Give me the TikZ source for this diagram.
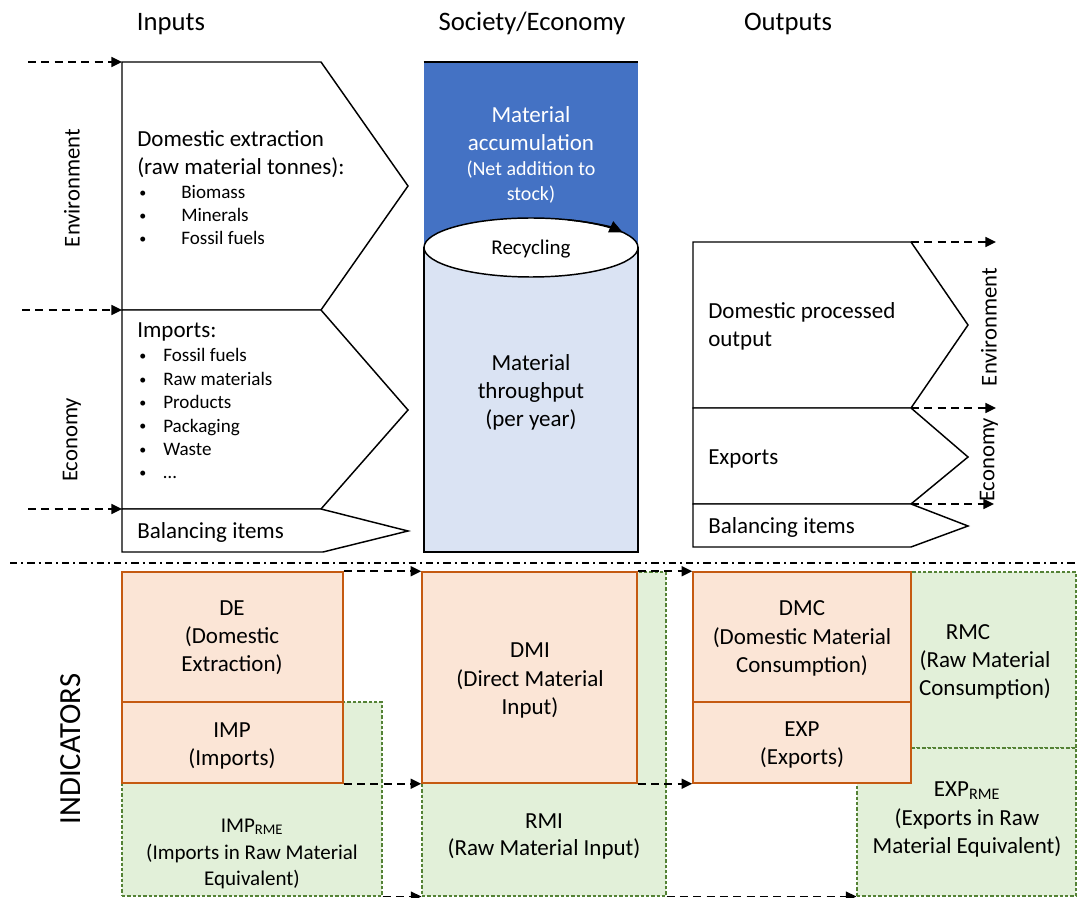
\documentclass[tikz,border=0pt]{standalone}
\usepackage{fontspec}
\setmainfont{Carlito}
\usetikzlibrary{arrows.meta,shapes.geometric,fit}
\definecolor{dkblue}{HTML}{4472C4}
\definecolor{ltblue}{HTML}{DAE3F3}
\definecolor{orfill}{HTML}{FBE5D6}
\definecolor{ordraw}{HTML}{C55A11}
\definecolor{grfill}{HTML}{E2F0D9}
\definecolor{grdraw}{HTML}{548235}
\newcommand\fmain{\fontsize{17.25pt}{21pt}\selectfont}
\newcommand\fhead{\fontsize{20pt}{24pt}\selectfont}
\newcommand\fbul{\fontsize{14.3pt}{17pt}\selectfont}
\newcommand\fdot{\fontsize{10.5pt}{12pt}\selectfont}
\newcommand\frec{\fontsize{15.75pt}{19pt}\selectfont}
\newcommand\fnet{\fontsize{15pt}{18pt}\selectfont}
\newcommand\frme{\fontsize{15.75pt}{19pt}\selectfont}
\newcommand\flab{\fontsize{17pt}{20pt}\selectfont}
\newcommand\find{\fontsize{23pt}{27pt}\selectfont}
\tikzset{
  shapeline/.style={draw=black, line width=1.1pt, fill=white, line join=miter},
  flow/.style={draw=black, line width=1.2pt, dash pattern=on 6pt off 4pt, -{Triangle[length=8pt,width=7.5pt]}},
  orbox/.style={draw=ordraw, fill=orfill, line width=1.1pt, inner sep=0pt},
  grbox/.style={draw=grdraw, fill=grfill, line width=0.8pt, dash pattern=on 2.5pt off 1.5pt, inner sep=0pt},
  tc/.style={inner sep=0pt, anchor=base, font=\fmain},
  tl/.style={inner sep=0pt, anchor=base west, font=\fmain},
  bul/.style={inner sep=0pt, anchor=base west, font=\fbul},
  dot/.style={inner sep=0pt, anchor=base west, font=\fdot},
  lab/.style={inner sep=0pt, rotate=90, font=\flab},
}
\begin{document}
\begin{tikzpicture}[x=0.75pt,y=-0.75pt]
\useasboundingbox (0,0) rectangle (1078,898);

% ---------- headers
\node[tc, font=\fhead] (hin) at (171,31) {Inputs};
\node[tc, font=\fhead] (hsoc) at (532,31) {Society/Economy};
\node[tc, font=\fhead] (hout) at (788,31) {Outputs};

% ---------- input shapes
\draw[shapeline] (122,62) -- (321,62) -- (408,186) -- (321,310) -- (122,310) -- cycle;
\draw[shapeline] (122,310) -- (321,310) -- (408,410) -- (321,509) -- (122,509) -- cycle;
\draw[shapeline] (122,509) -- (321,509) -- (408,531) -- (323,552) -- (122,552) -- cycle;
\coordinate (inA) at (122,62);
\coordinate (inB) at (122,310);
\coordinate (inC) at (122,509);
\coordinate (srcA) at (28,62);
\coordinate (srcB) at (22,310);
\coordinate (srcC) at (28,509);
\draw[flow] (srcA) -- (inA);
\draw[flow] (srcB) -- (inB);
\draw[flow] (srcC) -- (inC);

\node[lab] (envL) at (72,188) {Environment};
\node[lab] (ecoL) at (72,440) {Economy};

\node[tl] (de1) at (137,146.5) {Domestic extraction};
\node[tl] (de2) at (137,175) {(raw material tonnes):};
\node[dot] (b1) at (139,198) {•};
\node[bul] (b1t) at (181,199) {Biomass};
\node[dot] (b2) at (139,221) {•};
\node[bul] (b2t) at (181,222) {Minerals};
\node[dot] (b3) at (139,244) {•};
\node[bul] (b3t) at (181,245) {Fossil fuels};

\node[tl] (im1) at (137,337.5) {Imports:};
\node[dot] (c1) at (139,361) {•};
\node[bul] (c1t) at (163,362) {Fossil fuels};
\node[dot] (c2) at (139,384.3) {•};
\node[bul] (c2t) at (163,385.3) {Raw materials};
\node[dot] (c3) at (139,407.6) {•};
\node[bul] (c3t) at (163,408.6) {Products};
\node[dot] (c4) at (139,431) {•};
\node[bul] (c4t) at (163,432) {Packaging};
\node[dot] (c5) at (139,454.3) {•};
\node[bul] (c5t) at (163,455.3) {Waste};
\node[dot] (c6) at (139,477.6) {•};
\node[bul] (c6t) at (163,478.6) {…};

\node[tl] (balL) at (137,538.5) {Balancing items};

% ---------- society cylinder
\fill[ltblue] (424,247.5) rectangle (638,552);
\draw[line width=1.1pt] (424,247.5) -- (424,552) -- (638,552) -- (638,247.5);
\node[fill=dkblue, inner sep=0pt, fit={(424,62)(638,247.5)}] (acc) {};
\draw[line width=1.6pt] (acc.north west) -- (acc.north east);
\node[ellipse, draw=black, line width=1.1pt, fill=white, inner sep=0pt,
      minimum width={214*0.75pt}, minimum height={59*0.75pt}] (rec) at (531,247.5) {};
\draw[line width=1.1pt, -{Triangle[length=10pt,width=9pt]}] (531+36.6,247.5-27.7) arc[start angle=-70, end angle=-31, x radius=107, y radius=29.5];
\node[tc, font=\frec] (rect) at (531,255) {Recycling};

\node[tc, text=white] (ma1) at (531,122.5) {Material};
\node[tc, text=white] (ma2) at (531,150.5) {accumulation};
\node[tc, text=white, font=\fnet] (ma3) at (531,176) {(Net addition to};
\node[tc, text=white, font=\fnet] (ma4) at (531,201) {stock)};

\node[tc] (mt1) at (531,370.5) {Material};
\node[tc] (mt2) at (531,398.5) {throughput};
\node[tc] (mt3) at (531,426.5) {(per year)};

% ---------- output shapes
\draw[shapeline] (693,242) -- (911,242) -- (968,325) -- (911,408) -- (693,408) -- cycle;
\draw[shapeline] (693,408) -- (911,408) -- (968,457) -- (911,504) -- (693,504) -- cycle;
\draw[shapeline] (693,504) -- (911,504) -- (968,526) -- (911,547) -- (693,547) -- cycle;
\coordinate (outA) at (911,242);
\coordinate (outB) at (911,408);
\coordinate (outC) at (911,504);
\coordinate (snkA) at (996,242);
\coordinate (snkB) at (996,408);
\coordinate (snkC) at (994,504);
\draw[flow] (outA) -- (snkA);
\draw[flow] (outB) -- (snkB);
\draw[flow] (outC) -- (snkC);

\node[lab] (envR) at (989,327) {Environment};
\node[lab] (ecoR) at (989,460) {Economy};

\node[tl] (dp1) at (708,318.5) {Domestic processed};
\node[tl] (dp2) at (708,346.5) {output};
\node[tl] (ex1) at (708,464.5) {Exports};
\node[tl] (balR) at (708,533.5) {Balancing items};

% ---------- separator
\coordinate (sepL) at (10,563);
\coordinate (sepR) at (1078,563);
\draw[line width=1.2pt, dash pattern=on 5.5pt off 3pt on 1.5pt off 3pt] (sepL) -- (sepR);

\node[inner sep=0pt, rotate=90, font=\find] (ind) at (71,749) {INDICATORS};

% ---------- indicator boxes
\node[grbox, fit={(122,702)(382,896)}] (imprme) {};
\node[grbox, fit={(422,572)(666,896)}] (rmi) {};
\node[grbox, fit={(911,572)(1076,748)}] (rmc) {};
\node[grbox, fit={(857,748)(1076,896)}] (exprme) {};

\node[orbox, fit={(122,572)(343,702)}] (de) {};
\node[orbox, fit={(122,702)(343,783)}] (imp) {};
\node[orbox, fit={(422,572)(637,783)}] (dmi) {};
\node[orbox, fit={(693,572)(911,702)}] (dmc) {};
\node[orbox, fit={(693,702)(911,783)}] (exp) {};

\draw[flow] (de.north east) -- (dmi.north west);
\draw[flow] (imp.south east) -- (dmi.south west);
\draw[flow] (imprme.south east) -- (rmi.south west);
\draw[flow] (dmi.north east) -- (dmc.north west);
\draw[flow] (dmi.south east) -- (exp.south west);
\draw[flow] (rmi.south east) -- (exprme.south west);

\node[tc] (de1t) at (232,615.5) {DE};
\node[tc] (de2t) at (232,643.5) {(Domestic};
\node[tc] (de3t) at (232,671.5) {Extraction)};
\node[tc] (im1t) at (232,737.5) {IMP};
\node[tc] (im2t) at (232,765.5) {(Imports)};
\node[tc, font=\frme] (ir1) at (252,832) {IMP\textsubscript{RME}};
\node[tc, font=\frme] (ir2) at (252,859) {(Imports in Raw Material};
\node[tc, font=\frme] (ir3) at (252,885) {Equivalent)};

\node[tc] (dm1) at (530,657.5) {DMI};
\node[tc] (dm2) at (530,686) {(Direct Material};
\node[tc] (dm3) at (530,714) {Input)};
\node[tc] (rm1) at (544,828.5) {RMI};
\node[tc] (rm2) at (544,855.5) {(Raw Material Input)};

\node[tc] (dc1) at (802,615.5) {DMC};
\node[tc] (dc2) at (802,644) {(Domestic Material};
\node[tc] (dc3) at (802,672) {Consumption)};
\node[tc] (ep1) at (802,736.5) {EXP};
\node[tc] (ep2) at (802,764.5) {(Exports)};

\node[tc] (rc1) at (968,639.5) {RMC};
\node[tc] (rc2) at (985,667.5) {(Raw Material};
\node[tc] (rc3) at (985,695.5) {Consumption)};
\node[tc] (er1) at (967,796.5) {EXP\textsubscript{RME}};
\node[tc] (er2) at (967,825.5) {(Exports in Raw};
\node[tc] (er3) at (967,853.5) {Material Equivalent)};
\end{tikzpicture}
\end{document}
